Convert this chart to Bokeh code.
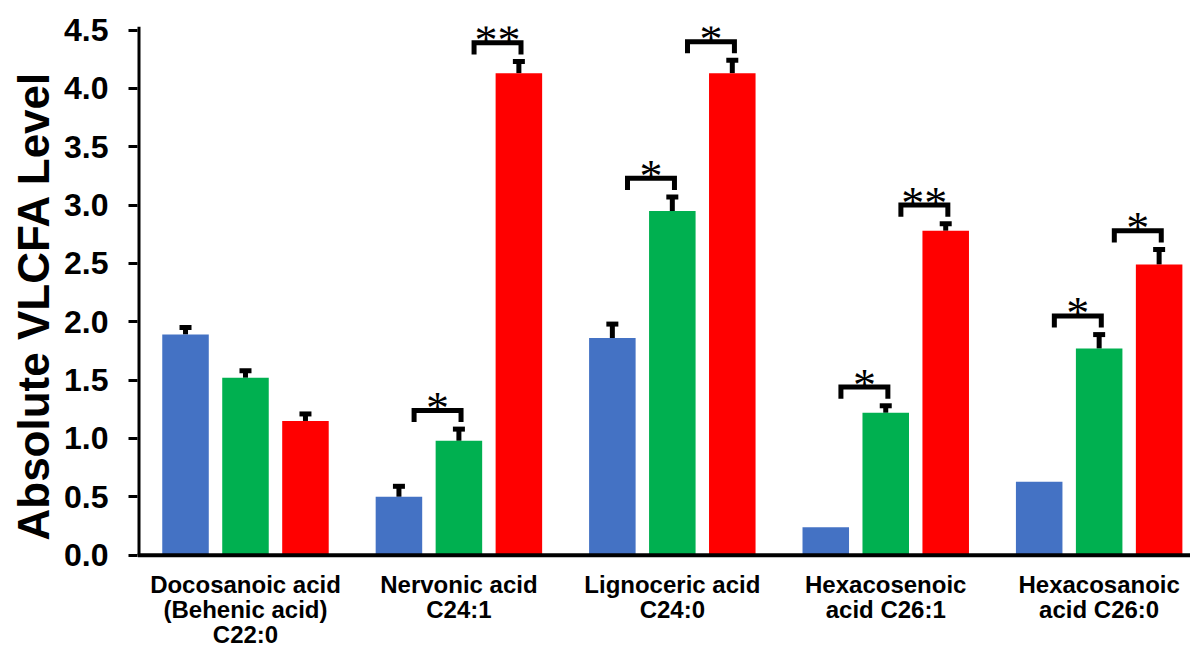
from bokeh.plotting import figure
from bokeh.models import (Range1d, FixedTicker, Whisker, ColumnDataSource, TeeHead,
                          PrintfTickFormatter, Title, Span)
from bokeh.embed import file_html
from bokeh.resources import INLINE
from bokeh.core.properties import value

# ---------------- data ----------------
categories = [
    "Docosanoic acid\n(Behenic acid)\nC22:0",
    "Nervonic acid\nC24:1",
    "Lignoceric acid\nC24:0",
    "Hexacosenoic\nacid C26:1",
    "Hexacosanoic\nacid C26:0",
]
blue_vals = [1.89, 0.50, 1.86, 0.24, 0.63]
blue_err = [0.06, 0.09, 0.12, 0.0, 0.0]
green_vals = [1.52, 0.98, 2.95, 1.22, 1.77]
green_err = [0.06, 0.10, 0.12, 0.06, 0.12]
red_vals = [1.15, 4.13, 4.13, 2.78, 2.49]
red_err = [0.06, 0.10, 0.11, 0.06, 0.13]
y_ticks = [0.0, 0.5, 1.0, 1.5, 2.0, 2.5, 3.0, 3.5, 4.0, 4.5]

# significance marks: category index, series index (0 blue, 1 green, 2 red), label
sig_groups = [1, 1, 2, 2, 3, 3, 4, 4]
sig_series = [1, 2, 1, 2, 1, 2, 1, 2]
sig_labels = ["*", "**", "*", "*", "*", "**", "*", "*"]

series_vals = [blue_vals, green_vals, red_vals]
series_errs = [blue_err, green_err, red_err]
series_colors = ["#4472C4", "#00B050", "#FF0000"]
offsets = [-0.281, 0.0, 0.281]
bar_w = 0.218

X0, X1 = -0.506, 4.428
Y0, Y1 = -0.817, 4.53

p = figure(width=1190, height=650, output_backend="svg", toolbar_location=None,
           x_range=Range1d(X0, X1), y_range=Range1d(Y0, Y1), x_axis_location=None,
           min_border_left=137, min_border_right=0, min_border_top=26, min_border_bottom=0)
p.outline_line_color = None
p.xgrid.grid_line_color = None
p.ygrid.grid_line_color = None
p.background_fill_color = "white"

for vals, errs, col, off in zip(series_vals, series_errs, series_colors, offsets):
    xs = [i + off for i in range(len(vals))]
    p.vbar(x=xs, top=vals, width=bar_w, bottom=0, fill_color=col, line_color=None)
    ex = [x for x, e in zip(xs, errs) if e > 0]
    lo = [v for v, e in zip(vals, errs) if e > 0]
    up = [v + e for v, e in zip(vals, errs) if e > 0]
    src = ColumnDataSource(dict(x=ex, lower=lo, upper=up))
    w = Whisker(base="x", lower="lower", upper="upper", source=src,
                line_width=5, line_color="black", line_cap="butt",
                upper_head=TeeHead(size=12, line_width=5, line_color="black"),
                lower_head=None)
    p.add_layout(w)

# axis lines (x axis at value 0, y axis from 0 up)
p.add_layout(Span(location=0, dimension="width", line_color="black", line_width=4))
p.segment(x0=[X0], y0=[0], x1=[X0], y1=[Y1], line_color="black", line_width=6)

# significance brackets
bx, by, tx, ty = [], [], [], []
for g, s, lab in zip(sig_groups, sig_series, sig_labels):
    c = g + offsets[s]
    top = series_vals[s][g] + series_errs[s][g] + 0.16
    l, r = c - 0.21, c + 0.01
    bx.append([l, l, r, r])
    by.append([top - 0.1, top, top, top - 0.1])
    tx.append((l + r) / 2)
    ty.append(top)
p.multi_line(xs=bx, ys=by, line_width=5, line_color="black", line_join="miter")
p.text(x=tx, y=ty, text=sig_labels, text_font=value("Liberation Serif"),
       text_font_size="46px", text_align="center", text_baseline="alphabetic",
       text_color="black", y_offset=-2)

# category labels under the axis
p.text(x=list(range(len(categories))), y=[0] * len(categories), text=categories,
       y_offset=16, text_align="center", text_baseline="top",
       text_font=value("Liberation Sans"), text_font_style="bold",
       text_font_size="24px", text_color="black", text_line_height=0.93)

# y axis
ya = p.yaxis[0]
ya.ticker = FixedTicker(ticks=y_ticks)
ya.formatter = PrintfTickFormatter(format="%.1f")
ya.axis_line_color = None
ya.major_tick_line_width = 3
ya.major_tick_line_color = "black"
ya.major_tick_out = 9
ya.major_tick_in = 0
ya.minor_tick_line_color = None
ya.major_label_text_font = "Liberation Sans"
ya.major_label_text_font_style = "bold"
ya.major_label_text_font_size = "32px"
ya.major_label_text_color = "black"
ya.major_label_standoff = 20

p.add_layout(Title(text="Absolute VLCFA Level", text_font="Liberation Sans",
                   text_font_style="bold", text_font_size="44px", text_color="black",
                   align="left", offset=110, standoff=8), "left")

open("out.html", "w").write(file_html(p, INLINE))
